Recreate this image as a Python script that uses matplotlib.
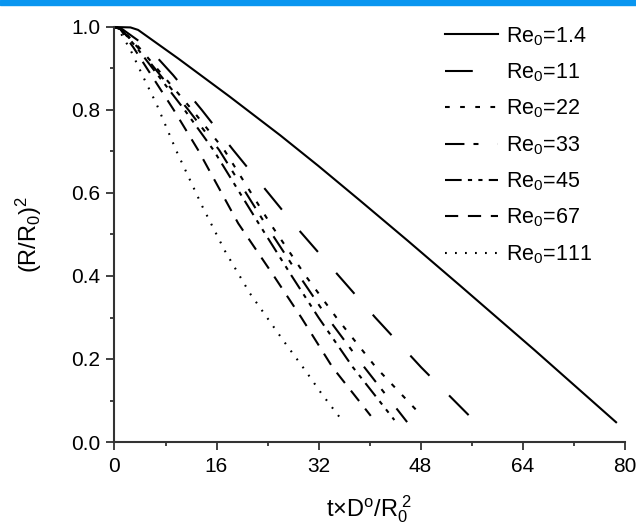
import numpy as np
import matplotlib.pyplot as plt
from matplotlib.lines import Line2D

plt.rcParams['font.family'] = ['Liberation Sans', 'DejaVu Sans']
plt.rcParams['mathtext.fontset'] = 'custom'
plt.rcParams['mathtext.rm'] = 'Liberation Sans'
plt.rcParams['mathtext.it'] = 'Liberation Sans:italic'
plt.rcParams['lines.scale_dashes'] = False

## data: (R/R0)^2 against reduced time for each Re0
re_labels = ['1.4', '11', '22', '33', '45', '67', '111']

x_re1p4 = [0, 2.5, 3.7, 10.0, 18.0, 26.0, 32.0, 38.5, 46.0, 54.2, 66.0, 78.8]
y_re1p4 = [1.0, 0.999, 0.993, 0.924, 0.833, 0.739, 0.665, 0.582, 0.485, 0.377, 0.220, 0.046]

x_re11 = [0, 1.2, 5.3, 9.2, 13.7, 18.6, 28.0, 35.2, 40.9, 48.1, 56.7]
y_re11 = [1.0, 0.995, 0.95, 0.884, 0.8, 0.704, 0.527, 0.4, 0.3, 0.18, 0.047]

x_re22 = [0, 1.1, 3.9, 12.2, 17.2, 24.4, 30.0, 34.8, 41.0, 48.2]
y_re22 = [1.0, 0.995, 0.95, 0.8, 0.704, 0.527, 0.4, 0.3, 0.18, 0.063]

x_re33 = [0, 1.0, 3.7, 11.6, 16.4, 23.6, 29.0, 33.4, 39.2, 45.9]
y_re33 = [1.0, 0.995, 0.95, 0.8, 0.704, 0.527, 0.4, 0.3, 0.18, 0.048]

x_re45 = [0, 1.0, 3.5, 11.0, 15.5, 22.6, 27.8, 32.0, 37.4, 43.9]
y_re45 = [1.0, 0.995, 0.95, 0.8, 0.704, 0.527, 0.4, 0.3, 0.18, 0.053]

x_re67 = [0, 0.9, 3.0, 9.3, 13.1, 19.4, 25.0, 29.3, 34.2, 40.2]
y_re67 = [1.0, 0.995, 0.95, 0.8, 0.704, 0.527, 0.4, 0.3, 0.18, 0.063]

x_re111 = [0, 0.8, 2.5, 4.5, 6.6, 9.75, 13.8, 17.3, 21.25, 26.5, 29.9, 32.5, 35.3]
y_re111 = [1.0, 0.99, 0.945, 0.88, 0.814, 0.70, 0.567, 0.461, 0.358, 0.244, 0.173, 0.116, 0.06]

xs = [x_re1p4, x_re11, x_re22, x_re33, x_re45, x_re67, x_re111]
ys = [y_re1p4, y_re11, y_re22, y_re33, y_re45, y_re67, y_re111]

# dash patterns in points (on, off, ...)
dash_list = [None,
             (0, (20, 20)),
             (0, (3.4, 7.5)),
             (0, (14, 6.5, 3.6, 14)),
             (0, (12, 4.5, 3, 4.5, 3, 4.5)),
             (0, (9.5, 7)),
             (0, (1.3, 5.9))]

fig = plt.figure(figsize=(6.36, 5.29), dpi=100)
ax = fig.add_axes([114.5/636, 1-442/529, 510/636, 415/529])

# blue band along the top edge
fig.patches.append(plt.Rectangle((0, 1-5/529), 1, 5/529, transform=fig.transFigure,
                                 color='#0A96F0', zorder=0))

handles = []
for i in range(len(re_labels)):
    ls = '-' if dash_list[i] is None else dash_list[i]
    ax.plot(xs[i], ys[i], color='black', lw=1.5, linestyle=ls, clip_on=False,
            solid_capstyle='butt', dash_capstyle='butt')
    handles.append(Line2D([], [], color='black', lw=1.5, linestyle=ls,
                          dash_capstyle='butt'))

ax.set_xlim(0, 80)
ax.set_ylim(0, 1.0)
ax.set_xticks(np.arange(0, 81, 16))
ax.set_xticks(np.arange(8, 80, 16), minor=True)
ax.set_yticks(np.arange(0, 1.01, 0.2))
ax.set_yticks(np.arange(0.1, 1.0, 0.2), minor=True)
ax.set_yticklabels(['%.1f' % v for v in np.arange(0, 1.01, 0.2)])

for s in ['top', 'right']:
    ax.spines[s].set_visible(False)
for s in ['left', 'bottom']:
    ax.spines[s].set_linewidth(1.5)
    ax.spines[s].set_color('#333333')

ax.tick_params(which='major', direction='out', length=6, width=1.3, color='#333333',
               labelsize=15, pad=4)
ax.tick_params(which='minor', direction='out', length=3, width=1.3, color='#333333')
ax.tick_params(axis='x', which='major', pad=5)

ax.set_xlabel(r't$\times$D$^{\mathregular{o}}$/R$_{\mathregular{0}}^{\mathregular{\ 2}}$',
              fontsize=17, labelpad=12)
ax.set_ylabel(r'(R/R$_{\mathregular{0}}$)$^{\mathregular{2}}$', fontsize=17, labelpad=20)

labels = [r'Re$_{\mathregular{0}}$=' + r for r in re_labels]
ax.legend(handles, labels, loc='upper left', bbox_to_anchor=(445/636, 1-25/529),
          bbox_transform=fig.transFigure, frameon=False, fontsize=15.5,
          handlelength=2.46, handletextpad=0.37, labelspacing=0.64, borderpad=0,
          borderaxespad=0)

fig.savefig('out.png', dpi=100)
